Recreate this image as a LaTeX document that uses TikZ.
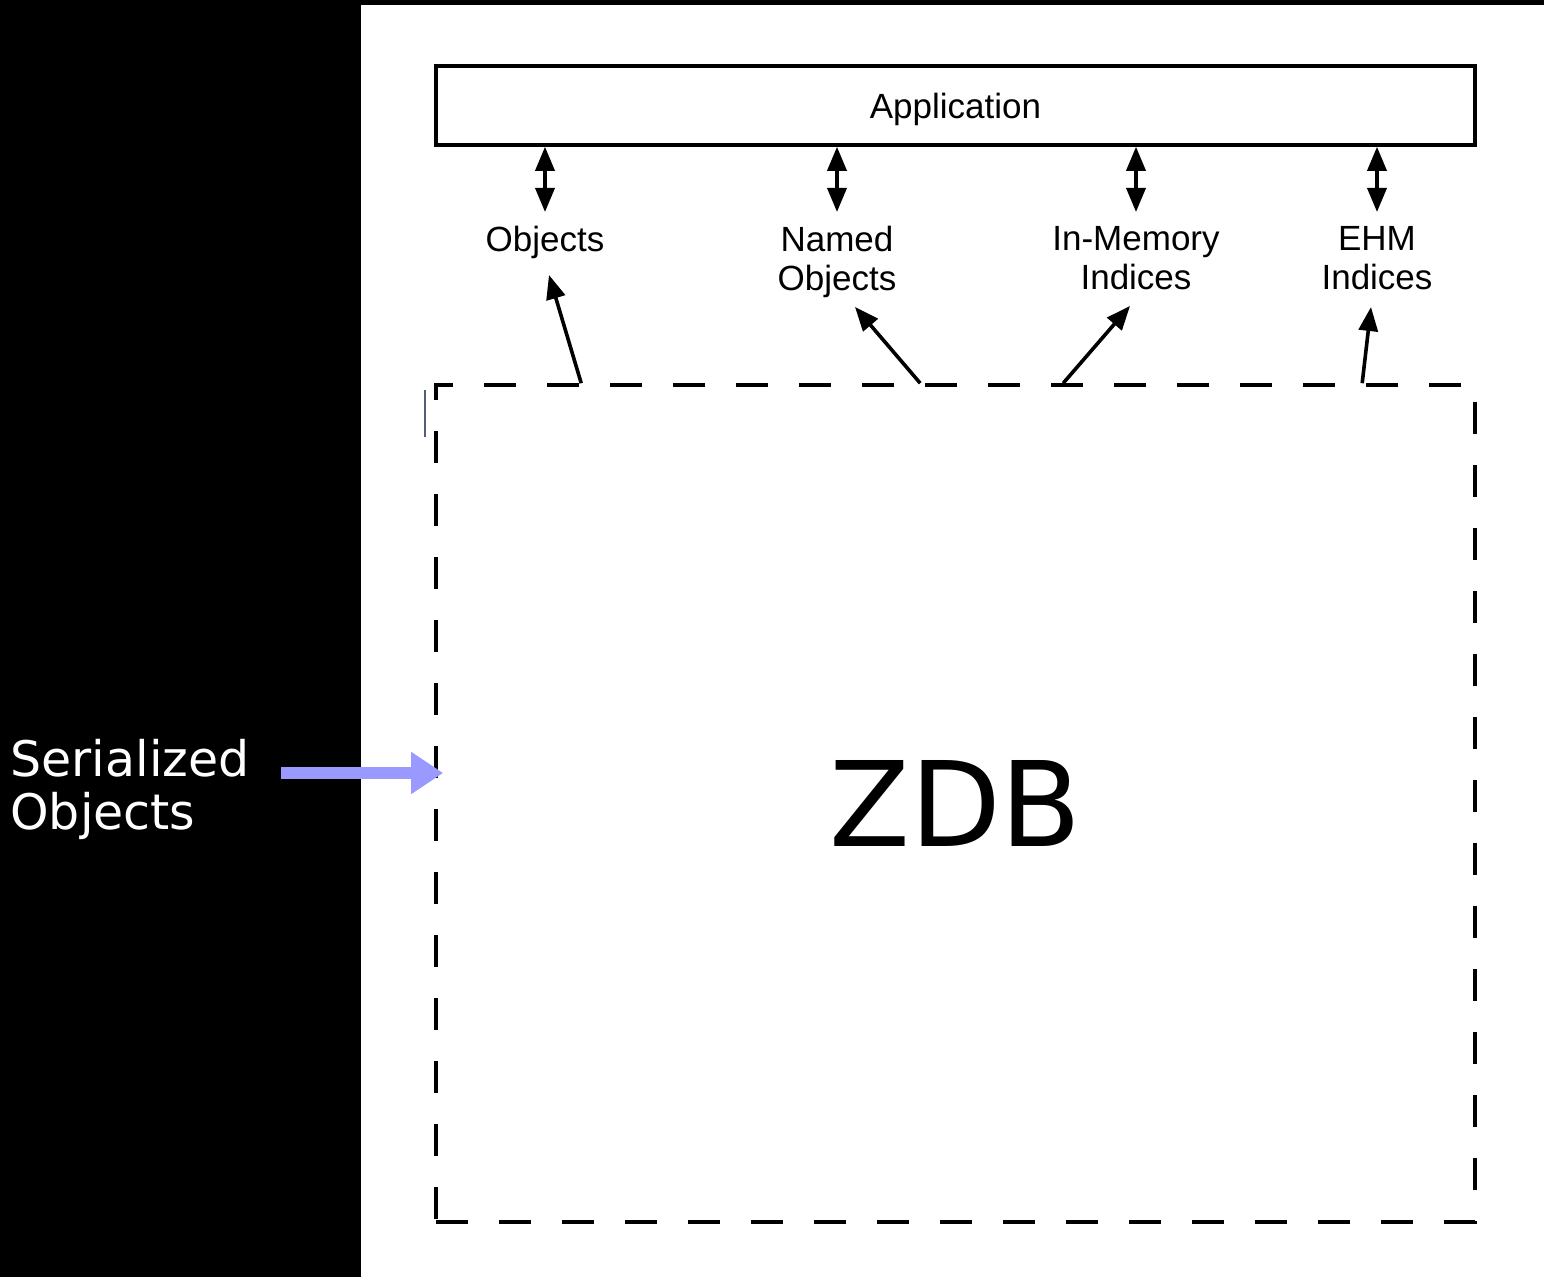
\documentclass[tikz,border=0pt]{standalone}
\usepackage{fontspec}
\setmainfont{Liberation Sans}
\newfontfamily\dvs{DejaVu Sans}
\usetikzlibrary{arrows.meta}
\definecolor{serialblue}{RGB}{153,153,255}
\definecolor{cursorgray}{RGB}{80,96,122}
\begin{document}
\begin{tikzpicture}[x=0.5pt,y=-0.5pt,
  lbl/.style={font=\fontsize{17.5}{19.5}\selectfont, align=center, inner sep=0pt, anchor=north},
  dbl/.style={line width=1.8pt, {Triangle[length=12pt,width=9.5pt]}-{Triangle[length=12pt,width=9.5pt]}},
  arr/.style={line width=1.8pt, -{Triangle[length=12pt,width=9.5pt]}},
  boxline/.style={draw, line width=1.8pt, inner sep=0pt},
  dashbox/.style={boxline, dash pattern=on 16pt off 15.5pt},
  feed/.style={serialblue, line width=6pt, -{Triangle[length=16pt,width=20pt]}},
]
% backdrop and white panel
\fill[black] (0,0) rectangle (1544,1277);
\fill[white] (361,5) rectangle (1544,1277);
\useasboundingbox (0,0) rectangle (1544,1277);

% application layer
\node[boxline, minimum width=519.5pt, minimum height=39.5pt, text depth=0pt,
      font=\fontsize{17.5}{19.5}\selectfont] (app) at (955.5,105.5) {Application};

% interface labels
\node[lbl] (obj)   at (545,226)  {Objects};
\node[lbl] (named) at (837,226)  {Named\\Objects};
\node[lbl] (inmem) at (1136,226) {In-Memory\\Indices};
\node[lbl] (ehm)   at (1377,226) {EHM\\Indices};

% two-way links between application and labels
\foreach \n in {obj,named,inmem,ehm}
  \draw[dbl] (app.south -| \n.north) -- ([yshift=7pt]\n.north);

% ZDB store
\node[dashbox, minimum width=519.5pt, minimum height=418.5pt,
      font=\dvs\fontsize{59}{70}\selectfont] (zdb) at (955.5,803.5) {ZDB};

% links from the store up to the labels
\draw[arr] ([xshift=73.5pt]zdb.north west) -- ([shift={(4,49)}]obj.north);
\draw[arr] ([xshift=243pt]zdb.north west)  -- ([shift={(18,81)}]named.north);
\draw[arr] ([xshift=314.5pt]zdb.north west) -- ([shift={(-6,80)}]inmem.north);
\draw[arr] ([xshift=464pt]zdb.north west)  -- ([shift={(-6,81)}]ehm.north);

% thin mark left of the store
\draw[cursorgray, line width=0.6pt] (425,390) -- (425,437);

% serialized input
\node[anchor=north west, inner sep=0pt, text=white, align=left,
      font=\dvs\fontsize{24.5}{26.5}\selectfont] (ser) at (10,739) {Serialized\\Objects};
\coordinate (feedstart) at (281,773);
\draw[feed, shorten >=-4.5pt] (feedstart) -- (feedstart -| zdb.west);
\end{tikzpicture}
\end{document}
